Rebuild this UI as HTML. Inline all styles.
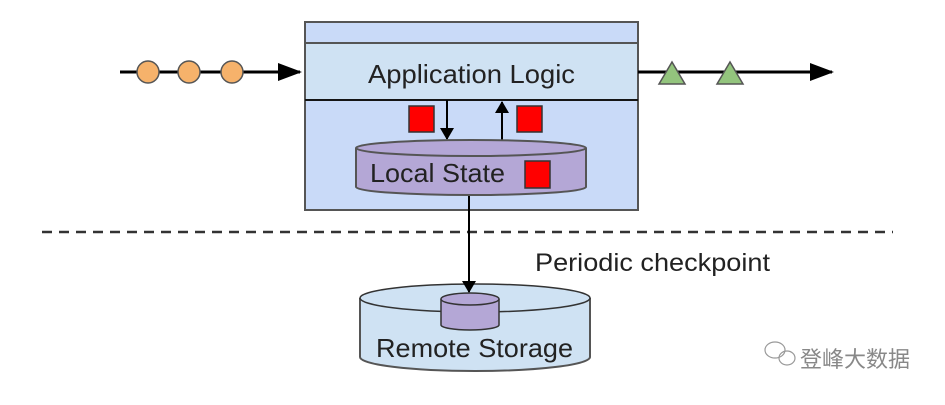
<!DOCTYPE html>
<html><head><meta charset="utf-8"><style>body{margin:0;background:#fff}</style></head><body>
<svg width="945" height="400" viewBox="0 0 945 400" xmlns="http://www.w3.org/2000/svg" font-family="Liberation Sans, sans-serif">
<defs><marker id="a" markerWidth="12" markerHeight="14" refX="11" refY="7" orient="auto" markerUnits="userSpaceOnUse"><path d="M0,0 L12,7 L0,14z" fill="#000"/></marker>
<marker id="b" markerWidth="24" markerHeight="18" refX="22" refY="9" orient="auto" markerUnits="userSpaceOnUse"><path d="M0,0 L24,9 L0,18z" fill="#000"/></marker></defs>
<rect x="305" y="22" width="333" height="188" fill="#c9daf8" stroke="#555" stroke-width="2"/>
<rect x="305" y="43" width="333" height="57" fill="#cfe2f3" stroke="#555" stroke-width="2"/>
<line x1="305" y1="100" x2="638" y2="100" stroke="#000" stroke-width="1.5"/>
<text x="368" y="83" font-size="26" fill="#222" textLength="207" lengthAdjust="spacingAndGlyphs">Application Logic</text>
<line x1="120" y1="72" x2="300" y2="72" stroke="#000" stroke-width="3" marker-end="url(#b)"/>
<g fill="#f6b26b" stroke="#555" stroke-width="1.5"><circle cx="148" cy="72" r="11"/><circle cx="189" cy="72" r="11"/><circle cx="232" cy="72" r="11"/></g>
<line x1="638" y1="72" x2="832" y2="72" stroke="#000" stroke-width="3" marker-end="url(#b)"/>
<g fill="#93c47d" stroke="#555" stroke-width="1.5"><path d="M659,84 L672,62 L685,84z"/><path d="M717,84 L730,62 L743,84z"/></g>
<line x1="447" y1="100" x2="447" y2="139" stroke="#000" stroke-width="2" marker-end="url(#a)"/>
<line x1="502" y1="140" x2="502" y2="102" stroke="#000" stroke-width="2" marker-end="url(#a)"/>
<g fill="#f00" stroke="#333" stroke-width="1.5"><rect x="409" y="106" width="25" height="26"/><rect x="517" y="106" width="25" height="26"/></g>
<path d="M356,148 L356,187 A115,8 0 0 0 586,187 L586,148" fill="#b4a7d6" stroke="#555" stroke-width="2"/>
<ellipse cx="471" cy="148" rx="115" ry="8" fill="#b4a7d6" stroke="#555" stroke-width="2"/>
<text x="370" y="182" font-size="26" fill="#222" textLength="135" lengthAdjust="spacingAndGlyphs">Local State</text>
<rect x="525" y="161" width="25" height="27" fill="#f00" stroke="#333" stroke-width="1.5"/>
<line x1="42" y1="232" x2="893" y2="232" stroke="#333" stroke-width="2.5" stroke-dasharray="10,7"/>
<text x="535" y="271" font-size="25" fill="#222" textLength="235" lengthAdjust="spacingAndGlyphs">Periodic checkpoint</text>
<path d="M360,298 L360,357 A115,14 0 0 0 590,357 L590,298" fill="#cfe2f3" stroke="#555" stroke-width="2"/>
<ellipse cx="475" cy="298" rx="115" ry="14" fill="#cfe2f3" stroke="#333" stroke-width="1.5"/>
<path d="M441,299 L441,325 A29,5 0 0 0 499,325 L499,299" fill="#b4a7d6" stroke="#333" stroke-width="1.5"/>
<ellipse cx="470" cy="299" rx="29" ry="6" fill="#b4a7d6" stroke="#333" stroke-width="1.5"/>
<line x1="469" y1="196" x2="469" y2="292" stroke="#000" stroke-width="2" marker-end="url(#a)"/>
<text x="376" y="357" font-size="26" fill="#222" textLength="197" lengthAdjust="spacingAndGlyphs">Remote Storage</text>
<g fill="none" stroke="#999" stroke-width="1.2"><ellipse cx="775" cy="350" rx="10" ry="8"/><ellipse cx="787" cy="358" rx="8" ry="7"/></g>
<text x="800" y="367" font-size="22" fill="#888" font-family="Liberation Sans, Noto Sans CJK SC, sans-serif">登峰大数据</text>
</svg>
</body></html>
